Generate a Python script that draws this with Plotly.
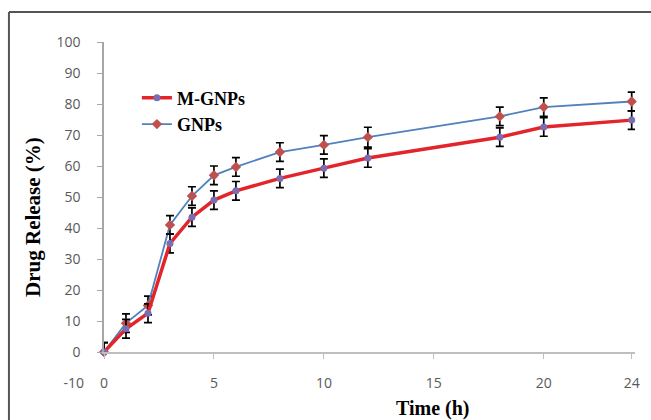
import plotly.graph_objects as go

time_h = [0, 1, 2, 3, 4, 5, 6, 8, 10, 12, 18, 20, 24]
m_gnps = [0, 7.5, 12.5, 35, 43.5, 49, 52, 56, 59.3, 62.6, 69.3, 72.6, 74.8]
gnps = [0, 9.3, 15, 41, 50.3, 57, 59.7, 64.5, 66.8, 69.3, 76, 79, 80.8]
m_gnps_err = [3, 3, 3, 3, 3, 3, 3, 3, 3, 3, 3, 3, 3]
gnps_err = [3, 3, 3, 3, 3, 3, 3, 3, 3, 3.2, 3, 3, 3]
x_ticks = [0, 5, 10, 15, 20, 24]
y_ticks = [0, 10, 20, 30, 40, 50, 60, 70, 80, 90, 100]

fig = go.Figure()
fig.add_trace(go.Scatter(
    x=time_h, y=gnps, name="<b>GNPs</b>", mode="lines+markers", legendgroup="b",
    line=dict(color="#4f81bd", width=1.8),
    marker=dict(color="#c0504d", size=8, symbol="diamond"),
    error_y=dict(type="data", array=gnps_err, color="black", thickness=1.7, width=4),
    cliponaxis=False,
))
fig.add_trace(go.Scatter(
    x=time_h, y=m_gnps, name="<b>M-GNPs</b>", mode="lines+markers", legendgroup="a",
    line=dict(color="#e3242b", width=3.5),
    marker=dict(color="#7a6db3", size=7, symbol="circle"),
    error_y=dict(type="data", array=m_gnps_err, color="black", thickness=1.7, width=4),
    cliponaxis=False,
))

d0 = 10 / 110
tickfont = dict(family="Open Sans, Arial, sans-serif", size=14, color="#595959")
serif = "Liberation Serif, Times New Roman, serif"

fig.update_layout(
    width=651, height=420,
    margin=dict(l=104, r=16, t=42, b=37),
    paper_bgcolor="white", plot_bgcolor="white",
    showlegend=True,
    legend=dict(x=0.062, y=0.89, xanchor="left", yanchor="top",
                traceorder="reversed", tracegroupgap=4,
                font=dict(family=serif, size=18, color="black"),
                bgcolor="rgba(0,0,0,0)"),
    xaxis=dict(range=[0, 24.15], tickvals=x_ticks, showgrid=False, zeroline=False,
               showline=True, linecolor="#bfbfbf", linewidth=1.5,
               ticks="outside", ticklen=5, tickcolor="#bfbfbf",
               tickfont=tickfont, ticklabelstandoff=12, anchor="y",
               automargin=False),
    yaxis=dict(range=[0, 100], domain=[d0, 1], tickvals=y_ticks, showgrid=False,
               zeroline=False, showline=True, linecolor="#a6a6a6", linewidth=1.5,
               ticks="outside", ticklen=5, tickcolor="#a6a6a6",
               tickfont=tickfont, ticklabelstandoff=14, anchor="x",
               automargin=False),
    yaxis2=dict(range=[-10, 0], domain=[0, d0], tickvals=[-10], ticktext=["-10"],
                showgrid=False, zeroline=False, showline=False, ticks="",
                tickfont=tickfont, ticklabelstandoff=19, anchor="x",
                automargin=False),
    annotations=[
        dict(text="<b>Drug Release (%)</b>", xref="paper", yref="paper",
             x=-0.1337, y=0.487, textangle=-90, showarrow=False,
             xanchor="center", yanchor="middle",
             font=dict(family=serif, size=21, color="black")),
        dict(text="<b>Time (h)</b>", xref="paper", yref="paper",
             x=0.6196, y=-0.076, showarrow=False,
             xanchor="center", yanchor="middle",
             font=dict(family=serif, size=20, color="black")),
    ],
    shapes=[
        dict(type="line", xref="paper", yref="paper", x0=-0.179, x1=1.04,
             y0=1.088, y1=1.088, line=dict(color="#555555", width=2)),
        dict(type="line", xref="paper", yref="paper", x0=-0.179, x1=-0.179,
             y0=1.088, y1=-0.12, line=dict(color="#555555", width=2)),
    ],
)
fig.add_trace(go.Scatter(x=[0], y=[-10], yaxis="y2", mode="markers",
                         marker=dict(opacity=0), showlegend=False, hoverinfo="skip"))

fig.write_html("out.html", config={"displayModeBar": False},
               post_script="document.body.style.margin='0';document.body.style.padding='0';")
